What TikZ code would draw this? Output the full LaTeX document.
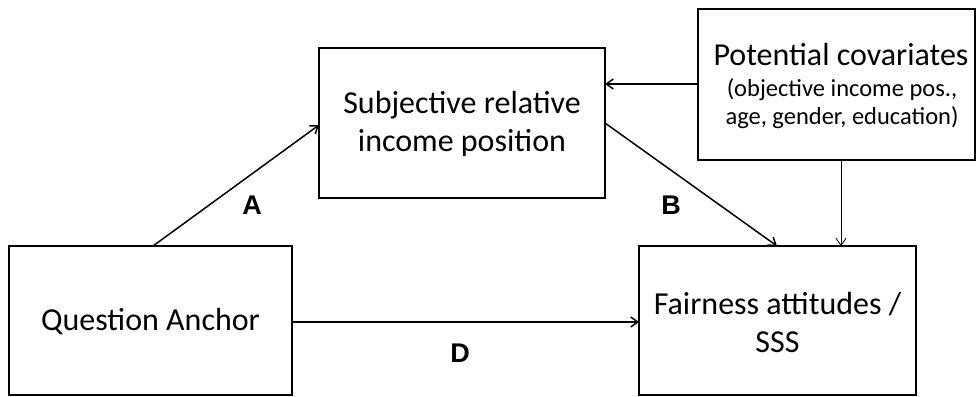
\documentclass[tikz,border=0pt]{standalone}
\usepackage{fontspec}
\setmainfont{Carlito}
\newfontfamily\labelfont{Liberation Sans}
\usetikzlibrary{arrows.meta}
\begin{document}
\begin{tikzpicture}[x=1pt,y=-1pt,
  box/.style={draw=black,line width=1.8pt,fill=white},
  boxtext/.style={align=center,font=\fontsize{32}{38}\selectfont},
  link/.style={line width=1.5pt,-{Straight Barb[length=7pt,width=10pt]}},
  thinlink/.style={line width=0.8pt,-{Straight Barb[length=7pt,width=10pt]}},
  pathlabel/.style={font=\labelfont\bfseries\fontsize{27}{27}\selectfont}]
\useasboundingbox (0,0) rectangle (976,396);
% boxes
\draw[box] (9,246) rectangle (292,395);
\node[boxtext] (qa) at (150.5,322) {Question Anchor};
\coordinate (qaN) at (153,246);
\coordinate (qaE) at (292,322);

\draw[box] (319,48) rectangle (605,198);
\node[boxtext] (sr) at (462,124) {Subjective relative\\income position};
\coordinate (srW) at (319,125);
\coordinate (srE) at (605,123);
\coordinate (srE2) at (605,84);

\draw[box] (698,9) rectangle (975,160);
\node[boxtext] (pc) at (841,55) {Potential covariates};
\node[align=center,font=\fontsize{24.5}{28}\selectfont] (pcsub) at (842,104)
  {(objective income pos.,\\age, gender, education)};
\coordinate (pcW) at (698,84);
\coordinate (pcS) at (841,160);

\draw[box] (639,246) rectangle (916,395);
\node[boxtext] (fa) at (777.5,322) {Fairness attitudes /\\SSS};
\coordinate (faN) at (777,246);
\coordinate (faN2) at (841,246);
\coordinate (faW) at (639,322);

% connectors
\draw[link] (qaN) -- (srW);
\draw[link] (srE) -- (faN);
\draw[link] (pcW) -- (srE2);
\draw[thinlink] (pcS) -- (faN2);
\draw[link] (qaE) -- (faW);

% path labels
\node[pathlabel] (la) at (252,205) {A};
\node[pathlabel] (lb) at (671,205) {B};
\node[pathlabel] (ld) at (460,353) {D};
\end{tikzpicture}
\end{document}
